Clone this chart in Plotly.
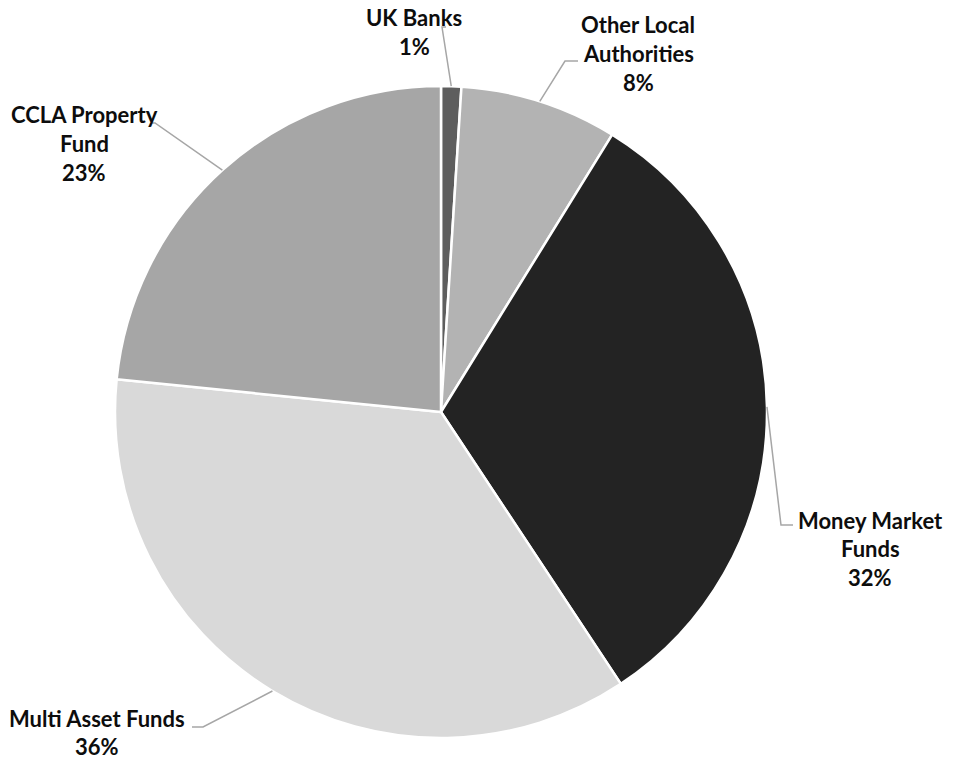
import math
import plotly.graph_objects as go

categories = ["UK Banks", "Other Local Authorities", "Money Market Funds", "Multi Asset Funds", "CCLA Property Fund"]
values = [1.0, 7.8, 31.9, 35.9, 23.4]
colors = ["#5e5e5e", "#b3b3b3", "#232323", "#d9d9d9", "#a6a6a6"]
label_lines = [["UK Banks"], ["Other Local", "Authorities"], ["Money Market", "Funds"], ["Multi Asset Funds"], ["CCLA Property", "Fund"]]

W, H = 954, 762
L, T, S = 115, 86, 652  # plot area (square), in figure pixels
CX, CY, R = L + S / 2, T + S / 2, S / 2

def px(x):
    return (x - L) / S

def py(y):
    return (T + S - y) / S

fig = go.Figure(go.Pie(
    labels=categories, values=values, sort=False, direction="clockwise", rotation=0,
    marker=dict(colors=colors, line=dict(color="white", width=2.5)),
    textinfo="none", hoverinfo="label+percent", showlegend=False,
))

# label layout in pixels: (center x, first line y); leader elbow and horizontal end
label_pos = [(414, 18), (638, 25), (870, 520), (97, 718), (84, 115)]
elbows = [((442, 27), (446, 27)), ((565, 61), (578, 61)), ((781, 525), (793, 525)), ((203, 727), (192, 727)), ((155, 123), (151, 123))]
LS = 28.5

annotations = []
shapes = []
total = sum(values)
cum = 0
for i, v in enumerate(values):
    pct = v / total * 100
    mid = (cum + v / 2) / total * 2 * math.pi
    cum += v
    ex, ey = CX + R * math.sin(mid), CY - R * math.cos(mid)
    lines = label_lines[i] + [f"{pct:.0f}%"]
    cxl, y0 = label_pos[i]
    for k, t in enumerate(lines):
        annotations.append(dict(
            text=f"<b>{t}</b>", x=px(cxl), y=py(y0 + k * LS), xref="paper", yref="paper",
            xanchor="center", yanchor="middle", showarrow=False, borderpad=0,
            font=dict(family="Lato", size=22, color="#0d0d0d")))
    (bx, by), (hx, hy) = elbows[i]
    shapes.append(dict(
        type="path", xref="paper", yref="paper",
        path=f"M {px(ex)},{py(ey)} L {px(bx)},{py(by)} L {px(hx)},{py(hy)}",
        line=dict(color="#a6a6a6", width=1.5)))

fig.update_layout(
    width=W, height=H,
    margin=dict(l=L, r=W - L - S, t=T, b=H - T - S),
    paper_bgcolor="white", plot_bgcolor="white",
    annotations=annotations, shapes=shapes,
)
fig.write_html("out.html", config={"displayModeBar": False},
               post_script="document.body.style.margin='0';")
